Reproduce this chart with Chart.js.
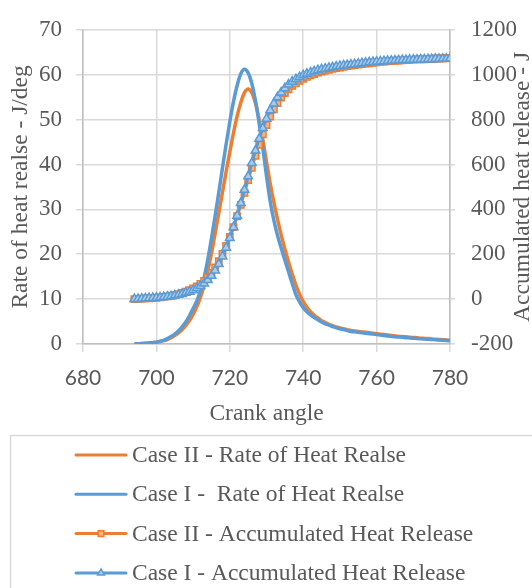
<!DOCTYPE html>
<html>
<head>
<meta charset="utf-8">
<title>Heat release</title>
<script src="https://cdn.jsdelivr.net/npm/chart.js@4/dist/chart.umd.min.js"></script>
<style>
  html, body { margin: 0; padding: 0; background: #fff; }
  #c { display: block; }
</style>
</head>
<body>
<canvas id="c" width="532" height="588" style="width:532px;height:588px"></canvas>
<script>
// crank angle, deg (one sample per degree)
const crankAngle = [
  694, 695, 696, 697, 698, 699, 700, 701, 702, 703,
  704, 705, 706, 707, 708, 709, 710, 711, 712, 713,
  714, 715, 716, 717, 718, 719, 720, 721, 722, 723,
  724, 725, 726, 727, 728, 729, 730, 731, 732, 733,
  734, 735, 736, 737, 738, 739, 740, 741, 742, 743,
  744, 745, 746, 747, 748, 749, 750, 751, 752, 753,
  754, 755, 756, 757, 758, 759, 760, 761, 762, 763,
  764, 765, 766, 767, 768, 769, 770, 771, 772, 773,
  774, 775, 776, 777, 778, 779, 780
];

// rate of heat release, J/deg (left axis)
const rateCaseII = [
  0.0, 0.05, 0.1, 0.15, 0.2, 0.3, 0.4, 0.55, 0.75, 1.0,
  1.4, 1.9, 2.5, 3.2, 4.1, 5.2, 6.6, 8.3, 10.4, 13.0,
  16.3, 20.2, 24.6, 29.2, 33.8, 38.4, 42.8, 47.0, 50.8, 53.8,
  56.0, 56.8, 56.0, 53.6, 50.0, 45.5, 40.6, 35.8, 31.6, 27.8,
  24.3, 21.2, 18.3, 15.6, 13.2, 11.1, 9.5, 8.2, 7.2, 6.4,
  5.8, 5.2, 4.8, 4.4, 4.1, 3.8, 3.6, 3.4, 3.2, 3.0,
  2.9, 2.8, 2.7, 2.6, 2.5, 2.4, 2.3, 2.2, 2.1, 2.0,
  1.9, 1.8, 1.7, 1.65, 1.6, 1.5, 1.45, 1.4, 1.3, 1.25,
  1.2, 1.1, 1.05, 1.0, 0.95, 0.9, 0.85
];
const rateCaseI = [
  0.0, 0.05, 0.1, 0.15, 0.2, 0.3, 0.4, 0.6, 0.8, 1.2,
  1.7, 2.2, 2.9, 3.8, 4.9, 6.3, 7.9, 9.6, 11.8, 14.8,
  18.8, 23.5, 28.5, 33.8, 39.2, 44.5, 49.5, 54.0, 57.6, 60.2,
  61.2, 60.4, 58.0, 54.2, 49.2, 43.6, 37.4, 31.8, 27.6, 24.2,
  21.4, 18.7, 16.1, 13.5, 11.0, 9.4, 8.1, 7.2, 6.5, 5.9,
  5.4, 4.9, 4.5, 4.2, 3.9, 3.6, 3.4, 3.2, 3.0, 2.8,
  2.7, 2.6, 2.5, 2.4, 2.3, 2.2, 2.1, 2.0, 1.9, 1.8,
  1.7, 1.6, 1.55, 1.5, 1.4, 1.35, 1.3, 1.2, 1.15, 1.1,
  1.05, 1.0, 0.95, 0.9, 0.85, 0.8, 0.75
];

// accumulated heat release, J (right axis)
const accCaseII = [
  0, 1, 2, 3, 4, 5, 6, 8, 10, 12,
  15, 18, 22, 27, 33, 40, 48, 57, 68, 81,
  97, 117, 141, 169, 201, 237, 277, 321, 369, 420,
  474, 530, 585, 638, 688, 734, 776, 813, 846, 874,
  898, 918, 935, 950, 962, 973, 982, 990, 997, 1003,
  1009, 1014, 1018, 1022, 1026, 1029, 1032, 1035, 1038, 1041,
  1043, 1045, 1047, 1049, 1051, 1053, 1055, 1057, 1058, 1060,
  1061, 1062, 1063, 1064, 1065, 1066, 1067, 1068, 1069, 1069,
  1070, 1071, 1072, 1072, 1073, 1073, 1074
];
const accCaseI = [
  0, 1, 2, 3, 4, 5, 6, 7, 9, 11,
  13, 16, 19, 23, 28, 33, 40, 48, 58, 70,
  85, 104, 128, 156, 190, 229, 272, 320, 372, 428,
  487, 547, 606, 662, 714, 762, 804, 841, 872, 899,
  921, 940, 956, 969, 980, 989, 997, 1004, 1010, 1015,
  1020, 1024, 1027, 1030, 1033, 1036, 1039, 1041, 1043, 1045,
  1047, 1049, 1051, 1053, 1055, 1057, 1058, 1059, 1060, 1061,
  1062, 1063, 1064, 1065, 1065, 1066, 1067, 1067, 1068, 1068,
  1069, 1069, 1070, 1070, 1071, 1071, 1072
];

const seriesNames = [
  "Case II - Rate of Heat Realse",
  "Case I -  Rate of Heat Realse",
  "Case II - Accumulated Heat Release",
  "Case I - Accumulated Heat Release"
];
const xTitle = "Crank angle";
const yTitle = "Rate of heat realse - J/deg";
const y1Title = "Accumulated heat release - J";

const ORANGE = "#ED7D31";
const BLUE = "#5B9BD5";
const TEXT = "#595959";
const GRID = "#d9d9d9";
const AXIS = "#bfbfbf";
const SERIF = "'Liberation Serif', 'Times New Roman', serif";

function toPoints(ys) {
  return crankAngle.map((x, i) => ({ x, y: ys[i] }));
}

// legend in a box under the plot + right title read bottom-to-top
const boxLegend = {
  id: "boxLegend",
  afterDraw(chart) {
    const ctx = chart.ctx;
    ctx.save();
    ctx.strokeStyle = GRID;
    ctx.lineWidth = 1.5;
    ctx.strokeRect(10.5, 435.5, 560, 200);

    ctx.font = "23.5px " + SERIF;
    ctx.textBaseline = "middle";
    ctx.textAlign = "left";
    chart.data.datasets.forEach((ds, i) => {
      const y = 455 + i * 39.3;
      ctx.strokeStyle = ds.borderColor;
      ctx.lineWidth = 3;
      ctx.lineCap = "round";
      ctx.beginPath();
      ctx.moveTo(76, y);
      ctx.lineTo(126, y);
      ctx.stroke();
      if (ds.pointRadius > 0) {
        ctx.fillStyle = ds.pointBackgroundColor;
        ctx.strokeStyle = ds.pointBorderColor;
        ctx.lineWidth = ds.pointBorderWidth;
        Chart.helpers.drawPoint(ctx, {
          pointStyle: ds.pointStyle,
          radius: 4,
          rotation: 0,
          borderWidth: ds.pointBorderWidth
        }, 101, y);
      }
      ctx.fillStyle = TEXT;
      ctx.fillText(ds.label, 132, y + 1);
    });

    const area = chart.chartArea;
    ctx.translate(523, (area.top + area.bottom) / 2);
    ctx.rotate(-Math.PI / 2);
    ctx.textAlign = "center";
    ctx.fillStyle = TEXT;
    ctx.font = "23.5px " + SERIF;
    ctx.fillText(y1Title, 0, 0);
    ctx.restore();
  }
};

Chart.defaults.font.family = SERIF;
Chart.defaults.color = TEXT;

const plain = (v) => String(v);

new Chart(document.getElementById("c"), {
  type: "line",
  data: {
    datasets: [
      {
        label: seriesNames[0],
        data: toPoints(rateCaseII),
        yAxisID: "y",
        borderColor: ORANGE,
        backgroundColor: ORANGE,
        borderWidth: 3.5,
        pointRadius: 0,
        cubicInterpolationMode: "monotone",
        order: 4
      },
      {
        label: seriesNames[1],
        data: toPoints(rateCaseI),
        yAxisID: "y",
        borderColor: BLUE,
        backgroundColor: BLUE,
        borderWidth: 3.5,
        pointRadius: 0,
        cubicInterpolationMode: "monotone",
        order: 3
      },
      {
        label: seriesNames[2],
        data: toPoints(accCaseII),
        yAxisID: "y1",
        borderColor: ORANGE,
        borderWidth: 3,
        pointStyle: "rect",
        pointRadius: 4.5,
        pointBackgroundColor: "#F4B183",
        pointBorderColor: ORANGE,
        pointBorderWidth: 1.5,
        cubicInterpolationMode: "monotone",
        order: 2
      },
      {
        label: seriesNames[3],
        data: toPoints(accCaseI),
        yAxisID: "y1",
        borderColor: BLUE,
        borderWidth: 3,
        pointStyle: "triangle",
        pointRadius: 5,
        pointBackgroundColor: "#A9CBEA",
        pointBorderColor: BLUE,
        pointBorderWidth: 1.5,
        cubicInterpolationMode: "monotone",
        order: 1
      }
    ]
  },
  options: {
    responsive: false,
    animation: false,
    layout: { padding: { top: 23, left: 0, right: 0, bottom: 153 } },
    plugins: {
      legend: { display: false },
      tooltip: { enabled: false }
    },
    scales: {
      x: {
        type: "linear",
        min: 680,
        max: 780,
        ticks: {
          stepSize: 20,
          padding: 14,
          font: { family: "Lato, 'Open Sans', sans-serif", size: 21 },
          color: TEXT,
          callback: plain
        },
        grid: { color: GRID, lineWidth: 1.5, tickLength: 8 },
        border: { color: AXIS, width: 1.5 },
        title: {
          display: true,
          text: xTitle,
          font: { family: SERIF, size: 23.5 },
          color: TEXT,
          padding: { top: 0, bottom: 7 }
        },
        afterFit(scale) { scale.height = 91; }
      },
      y: {
        type: "linear",
        position: "left",
        min: 0,
        max: 70,
        ticks: { stepSize: 10, padding: 14, font: { size: 23 }, color: TEXT, callback: plain },
        grid: { color: GRID, lineWidth: 1.5, tickLength: 7 },
        border: { color: AXIS, width: 1.5 },
        title: {
          display: true,
          text: yTitle,
          font: { family: SERIF, size: 23.5 },
          color: TEXT,
          padding: { top: 7, bottom: 0 }
        },
        afterFit(scale) { scale.width = 83; }
      },
      y1: {
        type: "linear",
        position: "right",
        min: -200,
        max: 1200,
        ticks: { stepSize: 200, padding: 16, font: { size: 23 }, color: TEXT, callback: plain },
        grid: { drawOnChartArea: false, color: GRID, lineWidth: 1.5, tickLength: 5 },
        border: { color: AXIS, width: 1.5 },
        afterFit(scale) { scale.width = 82; }
      }
    }
  },
  plugins: [boxLegend]
});
</script>
</body>
</html>
